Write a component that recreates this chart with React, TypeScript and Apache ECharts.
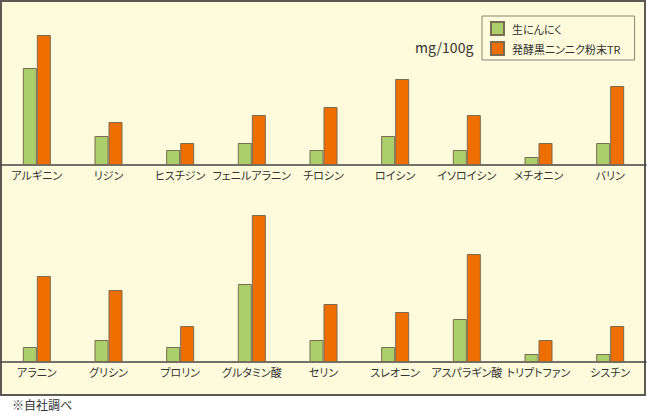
import React, { useEffect, useRef } from "react";
import * as echarts from "echarts";

const topCategories = ["アルギニン", "リジン", "ヒスチジン", "フェニルアラニン", "チロシン", "ロイシン", "イソロイシン", "メチオニン", "バリン"];
const bottomCategories = ["アラニン", "グリシン", "プロリン", "グルタミン酸", "セリン", "スレオニン", "アスパラギン酸", "トリプトファン", "シスチン"];
const seriesNames = ["生にんにく", "発酵黒ニンニク粉末TR"];
const topRaw = [970, 290, 150, 220, 150, 290, 150, 80, 220];
const topBlack = [1300, 430, 220, 500, 580, 860, 500, 220, 790];
const bottomRaw = [150, 220, 150, 780, 220, 150, 430, 80, 80];
const bottomBlack = [860, 720, 360, 1470, 580, 500, 1080, 220, 360];
const unitLabel = "mg/100g";
const noteLabel = "※自社調べ";
const yMax = 1500;

const FONT = '"Noto Sans CJK JP", "Noto Sans", sans-serif';
const GREEN = "#AACF6B";
const ORANGE = "#EE6F00";
const BAR_BORDER = "#7B6B52";
const BG = "#FEFBDC";
const TEXT = "#333333";

export default function App() {
  const ref = useRef<HTMLDivElement>(null);
  useEffect(() => {
    const chart = echarts.init(ref.current!, null, { renderer: "svg" });
    const xAxisCommon = {
      type: "category" as const,
      axisLine: { lineStyle: { color: "#444", width: 1.5 } },
      axisTick: { inside: true, length: 10, lineStyle: { color: "#444", width: 1.5 } },
      axisLabel: { interval: 0, color: TEXT, fontSize: 11, fontFamily: FONT, margin: 4 },
    };
    const yAxisCommon = { type: "value" as const, min: 0, max: yMax, show: false, splitLine: { show: false } };
    const barCommon = { type: "bar" as const, barWidth: 14, barGap: "0%" };
    chart.setOption({
      animation: false,
      textStyle: { fontFamily: FONT },
      graphic: [
        {
          type: "rect",
          z: -10,
          shape: { x: 1, y: 1, width: 644, height: 394 },
          style: { fill: BG, stroke: "#5E5954", lineWidth: 2 },
        },
        {
          type: "text",
          x: 415,
          y: 47,
          style: { text: unitLabel, fill: TEXT, fontSize: 14, fontFamily: FONT, textVerticalAlign: "middle" },
        },
        {
          type: "text",
          x: 12,
          y: 404,
          style: { text: noteLabel, fill: TEXT, fontSize: 12, fontFamily: FONT, textVerticalAlign: "middle" },
        },
      ],
      legend: {
        data: seriesNames,
        orient: "vertical",
        left: 482,
        top: 16,
        padding: [5, 10, 4, 8],
        itemGap: 5,
        itemWidth: 13,
        itemHeight: 13,
        icon: "rect",
        backgroundColor: BG,
        borderColor: "#8A8273",
        borderWidth: 1,
        textStyle: { color: TEXT, fontSize: 11, fontFamily: FONT, padding: [0, 0, 0, 3] },
      },
      grid: [
        { left: 1, right: 1, top: 15, height: 150 },
        { left: 1, right: 1, top: 212, height: 150 },
      ],
      xAxis: [
        { ...xAxisCommon, gridIndex: 0, data: topCategories },
        { ...xAxisCommon, gridIndex: 1, data: bottomCategories },
      ],
      yAxis: [
        { ...yAxisCommon, gridIndex: 0 },
        { ...yAxisCommon, gridIndex: 1 },
      ],
      series: [
        { ...barCommon, name: seriesNames[0], xAxisIndex: 0, yAxisIndex: 0, data: topRaw, itemStyle: { color: GREEN, borderColor: BAR_BORDER, borderWidth: 1 } },
        { ...barCommon, name: seriesNames[1], xAxisIndex: 0, yAxisIndex: 0, data: topBlack, itemStyle: { color: ORANGE, borderColor: BAR_BORDER, borderWidth: 1 } },
        { ...barCommon, name: seriesNames[0], xAxisIndex: 1, yAxisIndex: 1, data: bottomRaw, itemStyle: { color: GREEN, borderColor: BAR_BORDER, borderWidth: 1 } },
        { ...barCommon, name: seriesNames[1], xAxisIndex: 1, yAxisIndex: 1, data: bottomBlack, itemStyle: { color: ORANGE, borderColor: BAR_BORDER, borderWidth: 1 } },
      ],
    });
    return () => chart.dispose();
  }, []);
  return (
    <>
      <style>{`#chartbox svg text{font-feature-settings:"palt" 1 !important;}`}</style>
      <div id="chartbox" ref={ref} style={{ position: "absolute", left: 0, top: 0, width: 647, height: 413 }} />
    </>
  );
}
